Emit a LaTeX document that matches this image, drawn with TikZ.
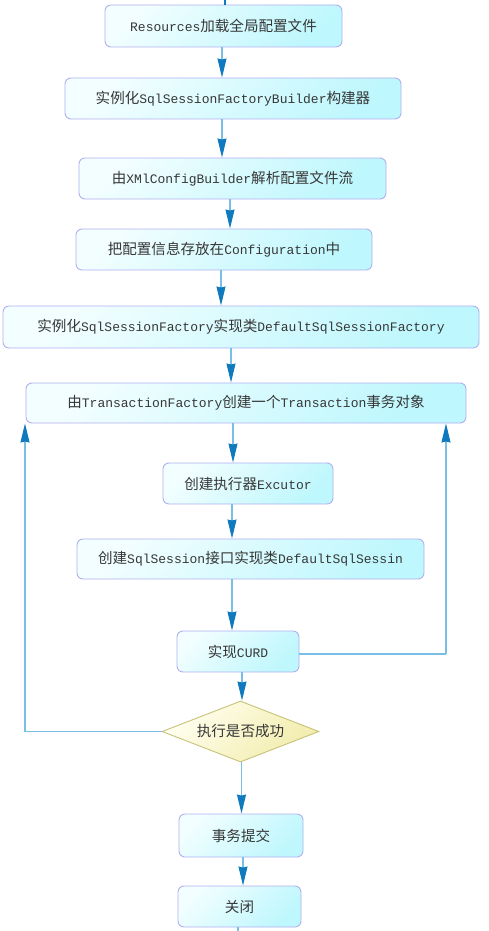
\documentclass[tikz,border=0pt]{standalone}
\usepackage{fontspec}
\setmainfont{Liberation Mono}
\newfontfamily\cjkfont{Noto Sans CJK SC}[Scale=1.12]
\newcommand\zhc[1]{{\cjkfont #1}}
\usetikzlibrary{shapes.geometric,arrows.meta,calc}
\definecolor{boxtop}{RGB}{242,254,255}
\definecolor{boxbot}{RGB}{190,247,253}
\definecolor{boxline}{RGB}{176,176,240}
\definecolor{diatop}{RGB}{255,255,240}
\definecolor{diabot}{RGB}{242,236,172}
\definecolor{dialine}{RGB}{200,194,120}
\definecolor{linecol}{RGB}{120,190,230}
\definecolor{tipcol}{RGB}{16,122,190}
\definecolor{txt}{RGB}{55,55,55}
\tikzset{
  flowbox/.style={draw=boxline, line width=0.9pt, rounded corners=6pt,
    top color=boxtop, bottom color=boxbot, shading angle=45,
    text=txt, font=\fontsize{13}{15}\selectfont, inner sep=0pt},
  decision/.style={diamond, draw=dialine, line width=0.9pt,
    top color=diatop, bottom color=diabot, shading angle=45,
    text=txt, font=\fontsize{13}{15}\selectfont, inner sep=0pt,
    minimum width=157pt, minimum height=61pt, aspect=2.6},
  link/.style={draw=linecol, line width=1.1pt},
  arr/.style={link, -{Stealth[length=19pt,width=9pt,inset=1pt,color=tipcol]}},
}
\begin{document}
\begin{tikzpicture}[x=1pt,y=-1pt]
\useasboundingbox (0,0) rectangle (488,931);
\node[flowbox, minimum width=237pt, minimum height=42pt] (b1) at (223.5,26) {Resources\zhc{加载全局配置文件}};
\node[flowbox, minimum width=336pt, minimum height=41pt] (b2) at (233,98.5) {\zhc{实例化}SqlSessionFactoryBuilder\zhc{构建器}};
\node[flowbox, minimum width=307pt, minimum height=41pt] (b3) at (232.5,178.5) {\zhc{由}XMlConfigBuilder\zhc{解析配置文件流}};
\node[flowbox, minimum width=296pt, minimum height=41pt] (b4) at (224,249.5) {\zhc{把配置信息存放在}Configuration\zhc{中}};
\node[flowbox, minimum width=476pt, minimum height=42pt] (b5) at (241,327) {\zhc{实例化}SqlSessionFactory\zhc{实现类}DefaultSqlSessionFactory};
\node[flowbox, minimum width=440pt, minimum height=40pt] (b6) at (246,403) {\zhc{由}TransactionFactory\zhc{创建一个}Transaction\zhc{事务对象}};
\node[flowbox, minimum width=170pt, minimum height=41pt] (b7) at (248,483.5) {\zhc{创建执行器}Excutor};
\node[flowbox, minimum width=347pt, minimum height=40pt] (b8) at (250.5,559) {\zhc{创建}SqlSession\zhc{接口实现类}DefaultSqlSessin};
\node[flowbox, minimum width=122pt, minimum height=41pt] (b9) at (238,651.5) {\zhc{实现}CURD};
\node[decision] (dia) at (240.5,731.5) {\zhc{执行是否成功}};
\node[flowbox, minimum width=124pt, minimum height=43pt] (b10) at (241,835.5) {\zhc{事务提交}};
\node[flowbox, minimum width=123pt, minimum height=41pt] (b11) at (239.5,906.5) {\zhc{关闭}};
\coordinate (top) at (225,0);
\coordinate (bot) at (238,931);
\coordinate (L) at (25,731.5);
\coordinate (R) at (446,654);
% incoming stub at the top
\draw[draw=tipcol, line width=1.5pt] (top) -- (top |- b1.north);
% main chain
\draw[arr] ([xshift=-1.5pt]b1.south) -- ([xshift=-1.5pt]b1.south |- b2.north);
\draw[arr] ([xshift=-11pt]b2.south) -- ([xshift=-11pt]b2.south |- b3.north);
\draw[arr] ([xshift=-2.5pt]b3.south) -- ([xshift=-2.5pt]b3.south |- b4.north);
\draw[arr] ([xshift=-3pt]b4.south) -- ([xshift=-3pt]b4.south |- b5.north);
\draw[arr] ([xshift=-10pt]b5.south) -- ([xshift=-10pt]b5.south |- b6.north);
\draw[arr] ([xshift=-13pt]b6.south) -- ([xshift=-13pt]b6.south |- b7.north);
\draw[arr] ([xshift=-16pt]b7.south) -- ([xshift=-16pt]b7.south |- b8.north);
\draw[arr] ([xshift=-18.5pt]b8.south) -- ([xshift=-18.5pt]b8.south |- b9.north);
\draw[arr] ([xshift=4pt]b9.south) -- ([xshift=4pt]b9.south |- dia.north);
\draw[arr] ([xshift=1pt]dia.south) -- ([xshift=1pt]dia.south |- b10.north);
\draw[arr] ([xshift=2pt]b10.south) -- ([xshift=2pt]b10.south |- b11.north);
\draw[link] (b11.south -| bot) -- (bot);
% loops
\draw[link] ([yshift=-2.5pt]b9.east) -- (R);
\draw[arr] (R) -- (R |- b6.south);
\draw[link] (dia.west) -- (L);
\draw[arr] (L) -- (L |- b6.south);
\end{tikzpicture}
\end{document}
